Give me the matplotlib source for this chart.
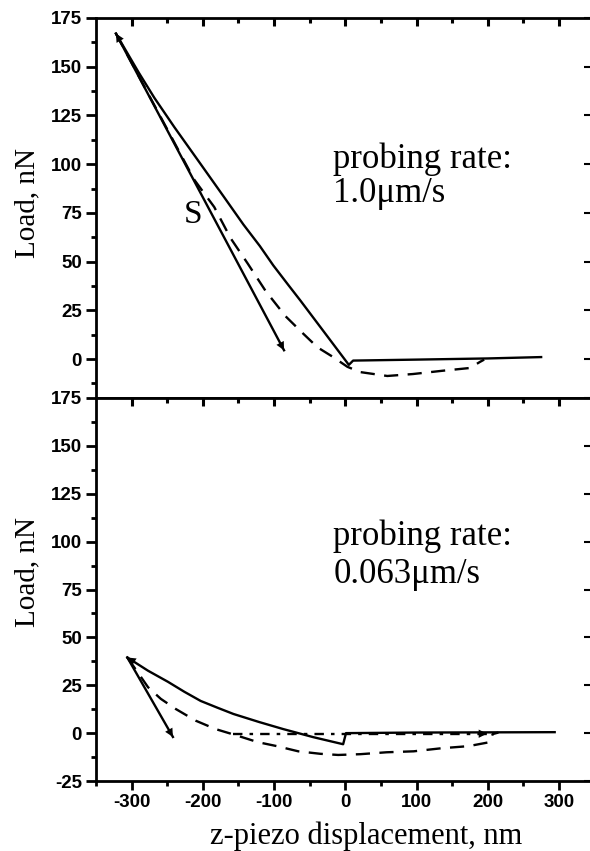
import matplotlib
matplotlib.use('Agg')
import matplotlib.pyplot as plt
import matplotlib.transforms as mtransforms
from matplotlib.ticker import MultipleLocator
from matplotlib.markers import TICKDOWN

plt.rcParams['axes.unicode_minus'] = False

# ---------------- data ----------------
# top panel: probing rate 1.0 um/s
top_approach_x = [275, 200, 100, 11, 5, -30, -63, -80, -101, -120, -143, -170, -203, -240, -268, -290, -322]
top_approach_y = [1.0, 0.3, -0.3, -0.8, -3.0, 14, 30, 38, 48, 58, 69, 83, 100, 119, 134, 147, 167]
top_retract_x = [-322, -212, -184, -161, -137, -112, -84, -59, -39, -17, 3, 21, 59, 95, 137, 175, 189, 195]
top_retract_y = [167, 92, 78, 62, 49, 35, 22, 13, 6, 1, -4, -6.7, -8.7, -7.7, -6, -4.6, -1.5, -0.3]
top_slope_x = [-322, -86]
top_slope_y = [167, 4.5]

# bottom panel: probing rate 0.063 um/s
bot_approach_x = [294, 200, 100, 1, -3, -45, -87, -121, -157, -179, -203, -226, -249, -277, -306]
bot_approach_y = [0.5, 0.4, 0.3, 0.0, -5.8, -2.1, 2.1, 5.8, 10, 13.2, 16.8, 21.6, 26.8, 32.6, 39.5]
bot_retract_x = [-306, -290, -277, -259, -238, -210, -182, -150, -123, -96, -66, -35, -10, 21, 58, 96, 135, 173, 203, 207, 215]
bot_retract_y = [39.5, 31, 24, 17.9, 12.6, 6.5, 2.1, -1.5, -4.7, -6.8, -9.5, -10.8, -11.4, -11, -10, -9.5, -7.9, -6.8, -4.7, -0.5, 0.3]
bot_slope_x = [-306, -242]
bot_slope_y = [39.5, -2]
bot_zero_x = [-157, 199]
bot_zero_y = [-0.3, -0.3]

x_ticks = [-300, -200, -100, 0, 100, 200, 300]
x_minor = [-250, -150, -50, 50, 150, 250]
top_yticks = [0, 25, 50, 75, 100, 125, 150, 175]
bot_yticks = [-25, 0, 25, 50, 75, 100, 125, 150, 175]

top_label = ["probing rate:", "1.0\u03bcm/s"]
bot_label = ["probing rate:", "0.063\u03bcm/s"]

# ---------------- figure ----------------
W, H = 590, 851
fig = plt.figure(figsize=(W / 100, H / 100), dpi=100)
left = 96 / W
width = (591 - 96) / W
ax1 = fig.add_axes([left, 1 - 398 / H, width, (398 - 18) / H])
ax2 = fig.add_axes([left, 1 - 781 / H, width, (781 - 398) / H])

serif = 'Liberation Serif'
sans = 'Liberation Sans'
lw = 1.7
dash = (0, (6, 4))
XLIM = (-350, 345)


def arrow(ax, x, y, i_to, i_from):
    # arrow head only; the line itself is drawn by ax.plot
    ax.annotate('', xy=(x[i_to], y[i_to]), xytext=(x[i_from], y[i_from]),
                arrowprops=dict(arrowstyle='-|>', color='k', lw=0,
                                mutation_scale=15, shrinkA=0, shrinkB=0))


def style(ax, yticks, ylim, bottom_labels):
    ax.set_xlim(*XLIM)
    ax.set_ylim(*ylim)
    ax.set_xticks(x_ticks)
    ax.set_yticks(yticks)
    ax.xaxis.set_minor_locator(MultipleLocator(50))
    ax.yaxis.set_minor_locator(MultipleLocator(12.5))
    for s in ['left', 'bottom', 'top']:
        ax.spines[s].set_linewidth(2)
    ax.spines['right'].set_visible(False)
    ax.tick_params(axis='y', which='both', left=True, right=False, direction='out', width=2)
    ax.tick_params(axis='y', which='major', length=7, pad=3)
    ax.tick_params(axis='y', which='minor', length=3.5)
    ax.tick_params(axis='x', which='both', top=False, bottom=bottom_labels,
                   labelbottom=bottom_labels, direction='out', width=2)
    ax.tick_params(axis='x', which='major', length=6.5, pad=3)
    ax.tick_params(axis='x', which='minor', length=3.5)
    for lab in ax.get_xticklabels() + ax.get_yticklabels():
        lab.set_fontfamily(sans)
        lab.set_fontweight('bold')
        lab.set_fontsize(13.5)
    # inward tick marks along the top edge
    trans = mtransforms.blended_transform_factory(ax.transData, ax.transAxes)
    ax.plot(x_ticks, [1] * len(x_ticks), linestyle='none', marker=TICKDOWN,
            markersize=6, markeredgewidth=2.2, color='k', transform=trans, clip_on=False, zorder=5)
    ax.plot(x_minor, [1] * len(x_minor), linestyle='none', marker=TICKDOWN,
            markersize=3.5, markeredgewidth=2.2, color='k', transform=trans, clip_on=False, zorder=5)
    # right inward major ticks
    tr = ax.twinx()
    tr.set_ylim(*ylim)
    tr.set_yticks(yticks)
    tr.yaxis.set_minor_locator(plt.NullLocator())
    tr.tick_params(axis='y', which='both', right=True, left=False, direction='in',
                   length=5, width=1.5, labelright=False, labelleft=False)
    tr.tick_params(axis='x', top=False, bottom=False, labeltop=False, labelbottom=False)
    for s in tr.spines.values():
        s.set_visible(False)


style(ax1, top_yticks, (-20, 175), False)
style(ax2, bot_yticks, (-25, 175), True)

# ---------------- top panel curves ----------------
ax1.plot(top_approach_x, top_approach_y, color='k', lw=lw, solid_joinstyle='round')
ax1.plot(top_retract_x, top_retract_y, color='k', lw=lw, linestyle=dash)
ax1.plot(top_slope_x, top_slope_y, color='k', lw=lw)
arrow(ax1, top_approach_x, top_approach_y, -1, -2)
arrow(ax1, top_slope_x, top_slope_y, -1, 0)

ax1.text(-17, 98, top_label[0], fontfamily=serif, fontsize=25, va='baseline', ha='left')
ax1.text(-17, 80.6, top_label[1], fontfamily=serif, fontsize=25, va='baseline', ha='left')
ax1.text(-227, 69.8, 'S', fontfamily=serif, fontsize=24, va='baseline', ha='left')

# ---------------- bottom panel curves ----------------
ax2.plot(bot_approach_x, bot_approach_y, color='k', lw=lw, solid_joinstyle='round')
ax2.plot(bot_retract_x, bot_retract_y, color='k', lw=lw, linestyle=dash)
ax2.plot(bot_zero_x, bot_zero_y, color='k', lw=lw, linestyle=(0, (4, 3, 1.5, 3)))
ax2.plot(bot_slope_x, bot_slope_y, color='k', lw=lw)
arrow(ax2, bot_approach_x, bot_approach_y, -1, -2)
arrow(ax2, bot_slope_x, bot_slope_y, -1, 0)
arrow(ax2, bot_zero_x, bot_zero_y, -1, 0)

ax2.text(-17, 98.4, bot_label[0], fontfamily=serif, fontsize=25, va='baseline', ha='left')
ax2.text(-17, 78.4, bot_label[1], fontfamily=serif, fontsize=25, va='baseline', ha='left')

# ---------------- axis labels ----------------
ax1.set_ylabel('Load, nN', fontfamily=serif, fontsize=21)
ax1.yaxis.set_label_coords(-0.139, 0.513)
ax1.yaxis.label.set_va('center')
ax2.set_ylabel('Load, nN', fontfamily=serif, fontsize=21)
ax2.yaxis.set_label_coords(-0.139, 0.546)
ax2.yaxis.label.set_va('center')
ax2.set_xlabel('z-piezo displacement, nm', fontfamily=serif, fontsize=22)
ax2.xaxis.set_label_coords(0.545, -0.1436)
ax2.xaxis.label.set_va('center')

fig.savefig('out.png', dpi=100)
